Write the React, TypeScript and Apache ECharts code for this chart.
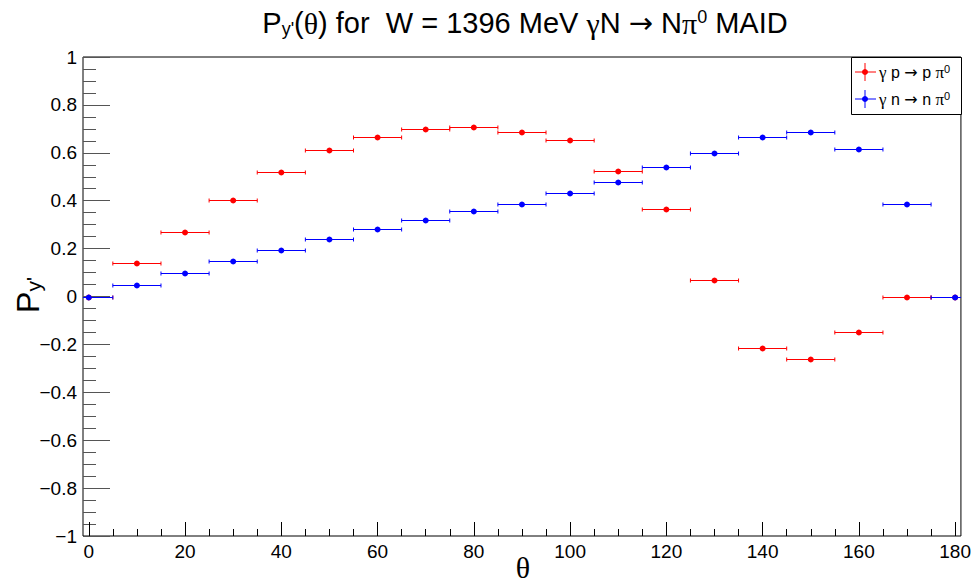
import React, { useEffect, useRef } from 'react';
import * as echarts from 'echarts';

const thetaValues = [0, 10, 20, 30, 40, 50, 60, 70, 80, 90, 100, 110, 120, 130, 140, 150, 160, 170, 180];
const protonValues = [0, 0.138, 0.271, 0.405, 0.518, 0.61, 0.668, 0.701, 0.706, 0.685, 0.655, 0.526, 0.367, 0.067, -0.213, -0.259, -0.15, 0, 0];
const neutronValues = [0, 0.05, 0.1, 0.15, 0.196, 0.242, 0.28, 0.321, 0.355, 0.388, 0.434, 0.48, 0.539, 0.601, 0.664, 0.685, 0.614, 0.388, 0];
const binHalfWidth = 5;
const xMajorTicks = [0, 20, 40, 60, 80, 100, 120, 140, 160, 180];
const xMinorTicks = [5, 10, 15, 25, 30, 35, 45, 50, 55, 65, 70, 75, 85, 90, 95, 105, 110, 115, 125, 130, 135, 145, 150, 155, 165, 170, 175];
const legendNucleon = ['p', 'n'];

const FONT = '"Liberation Sans", Arial, Helvetica, sans-serif';
const SERIF = '"Liberation Serif", "DejaVu Serif", serif';
const SYM = '"DejaVu Sans", sans-serif';
const RED = '#ff0000';
const BLUE = '#0000ff';

function errorSeries(name: string, values: number[], color: string) {
  return {
    type: 'custom',
    name,
    clip: true,
    xAxisIndex: 0,
    yAxisIndex: 0,
    data: thetaValues.map((t, i) => [t, values[i]]),
    renderItem: (params: any, api: any) => {
      const x = api.value(0);
      const y = api.value(1);
      const p = api.coord([x, y]);
      const l = api.coord([x - binHalfWidth, y]);
      const r = api.coord([x + binHalfWidth, y]);
      const yy = Math.round(p[1]) + 0.5;
      const ls = { stroke: color, lineWidth: 1 };
      return {
        type: 'group',
        children: [
          { type: 'line', shape: { x1: l[0], y1: yy, x2: r[0], y2: yy }, style: ls },
          { type: 'line', shape: { x1: l[0], y1: yy - 2, x2: l[0], y2: yy + 2 }, style: ls },
          { type: 'line', shape: { x1: r[0], y1: yy - 2, x2: r[0], y2: yy + 2 }, style: ls },
          { type: 'circle', shape: { cx: p[0], cy: yy, r: 3 }, style: { fill: color } },
        ],
      };
    },
  };
}

export default function App() {
  const ref = useRef<HTMLDivElement>(null);
  useEffect(() => {
    if (!ref.current) return;
    const chart = echarts.init(ref.current, null, { renderer: 'svg' });
    const gridLeft = 83, gridTop = 57, gridW = 878, gridH = 479;
    const xMin = -1.2, xMax = 181.2;
    const legendEntry = (i: number, color: string, y: number) => ({
      type: 'group',
      children: [
        { type: 'line', shape: { x1: 855, y1: y, x2: 876, y2: y }, style: { stroke: color, lineWidth: 1 } },
        { type: 'line', shape: { x1: 865, y1: y - 9, x2: 865, y2: y + 9 }, style: { stroke: color, lineWidth: 1 } },
        { type: 'circle', shape: { cx: 865, cy: y, r: 3 }, style: { fill: color } },
        {
          type: 'text',
          x: 879,
          y: y,
          style: {
            text: '{g|γ}{m| ' + legendNucleon[i] + ' }{a|→}{m| ' + legendNucleon[i] + ' }{g|π}{sup|0}',
            verticalAlign: 'middle',
            align: 'left',
            rich: {
              m: { fontSize: 16, fontFamily: FONT, fill: '#000' },
              g: { fontSize: 17, fontFamily: SERIF, fill: '#000' },
              a: { fontSize: 16, fontFamily: SYM, fill: '#000' },
              sup: { fontSize: 11, fontFamily: FONT, fill: '#000', verticalAlign: 'top' },
            },
          },
        },
      ],
    });
    chart.setOption({
      animation: false,
      backgroundColor: '#fff',
      grid: { left: gridLeft, top: gridTop, width: gridW, height: gridH, show: true, borderColor: '#000', borderWidth: 1, backgroundColor: 'transparent' },
      xAxis: [
        {
          type: 'value', min: xMin, max: xMax, position: 'bottom',
          axisLine: { show: false, onZero: false },
          splitLine: { show: false },
          axisTick: { show: true, inside: true, length: 14, customValues: xMajorTicks, lineStyle: { color: '#000' } },
          axisLabel: { show: true, customValues: xMajorTicks, margin: 6, color: '#000', fontSize: 19, fontFamily: FONT, showMinLabel: true, showMaxLabel: true },
        },
        {
          type: 'value', min: xMin, max: xMax, position: 'bottom',
          axisLine: { show: false, onZero: false },
          splitLine: { show: false },
          axisTick: { show: true, inside: true, length: 7, customValues: xMinorTicks, lineStyle: { color: '#000' } },
          axisLabel: { show: false },
        },
      ],
      yAxis: [
        {
          type: 'value', min: -1, max: 1, interval: 0.2,
          axisLine: { show: false, onZero: false },
          splitLine: { show: false },
          axisTick: { show: true, inside: true, length: 27, lineStyle: { color: '#555' } },
          minorTick: { show: true, splitNumber: 4, length: 13, lineStyle: { color: '#555' } },
          axisLabel: {
            margin: 6, color: '#000', fontSize: 19, fontFamily: FONT,
            formatter: (v: number) => String(Math.round(v * 10) / 10).replace('-', '−'),
          },
        },
      ],
      series: [errorSeries('proton', protonValues, RED), errorSeries('neutron', neutronValues, BLUE)],
      graphic: [
        {
          type: 'text',
          x: 525,
          y: 23,
          style: {
            text: "{m|P}{sub|y'}{m|(}{g|θ}{m|) for  W = 1396 MeV }{g|γ}{m|N }{a|→}{m| N}{g|π}{sup|0}{m| MAID}",
            align: 'center',
            verticalAlign: 'middle',
            rich: {
              m: { fontSize: 29, fontFamily: FONT, fill: '#000' },
              g: { fontSize: 30, fontFamily: SERIF, fill: '#000' },
              a: { fontSize: 29, fontFamily: SYM, fill: '#000' },
              sub: { fontSize: 18, fontFamily: FONT, fill: '#000', verticalAlign: 'bottom' },
              sup: { fontSize: 18, fontFamily: FONT, fill: '#000', verticalAlign: 'top' },
            },
          },
        },
        {
          type: 'text',
          x: 523,
          y: 567,
          style: { text: 'θ', align: 'center', verticalAlign: 'middle', fontSize: 30, fontFamily: SERIF, fill: '#000' },
        },
        {
          type: 'text',
          x: 28,
          y: 295,
          rotation: Math.PI / 2,
          style: {
            text: "{m|P}{sub|y'}",
            align: 'center',
            verticalAlign: 'middle',
            rich: {
              m: { fontSize: 32, fontFamily: FONT, fill: '#000' },
              sub: { fontSize: 21, fontFamily: FONT, fill: '#000', verticalAlign: 'bottom' },
            },
          },
        },
        {
          type: 'rect',
          shape: { x: 851.5, y: 57.5, width: 110, height: 57 },
          style: { fill: '#fff', stroke: '#000', lineWidth: 1 },
        },
        legendEntry(0, RED, 72),
        legendEntry(1, BLUE, 99),
      ],
    });
    return () => chart.dispose();
  }, []);
  return <div ref={ref} style={{ position: 'fixed', left: 0, top: 0, width: 974, height: 587 }} />;
}
